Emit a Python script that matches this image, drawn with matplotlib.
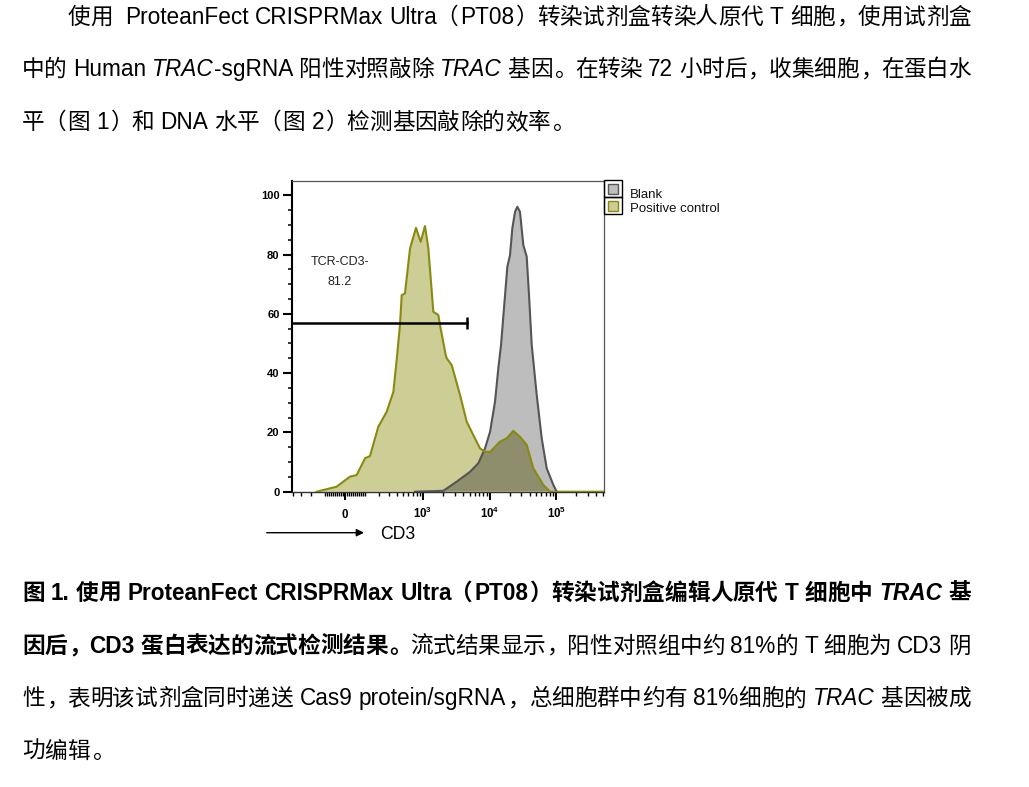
import re
import numpy as np
import matplotlib
matplotlib.use("Agg")
import matplotlib.pyplot as plt
from matplotlib.patches import Rectangle

plt.rcParams['font.family'] = ['Liberation Sans', 'Noto Sans CJK SC', 'DejaVu Sans']
plt.rcParams['mathtext.fontset'] = 'custom'
plt.rcParams['mathtext.rm'] = 'Liberation Sans'
plt.rcParams['mathtext.bf'] = 'Liberation Sans:bold'

# CD3 histograms (CD3 intensity, % of max)
blank_cd3 = [756, 2024, 3213, 5087, 6775, 8541, 10160, 12060, 13520, 14840, 17050,
             18460, 20240, 21910, 24070, 26050, 28560, 32030, 36000, 39010, 42810,
             50900, 60450, 71800, 90240, 101500]
blank_pct = [0, 0.3, 3.4, 6.7, 9.6, 14.6, 20.2, 30.4, 41.6, 49.5, 66.3,
             75.9, 79.8, 88.8, 94.4, 96.1, 94.4, 83.2, 79.3, 66.3, 49.5,
             32.6, 18.0, 7.9, 2.3, 0]
pos_cd3 = [-155, -40, 24, 56, 102, 132, 193, 271, 348, 393, 443, 472, 530, 635,
           782, 922, 1071, 1203, 1431, 1701, 1805, 2196, 2275, 2705, 3604, 4542,
           5705, 7181, 8541, 10160, 14340, 18060, 22680, 28560, 36000, 45220,
           63900, 80500, 519000]
pos_pct = [0, 1.7, 5.1, 5.6, 11.3, 12.0, 21.9, 27.0, 33.7, 44.4, 56.2, 66.3, 66.9, 82.1,
           89.0, 84.3, 89.6, 82.1, 60.7, 59.6, 56.2, 46.1, 45.0, 42.7, 32.6, 23.6,
           19.1, 14.6, 13.5, 13.4, 16.9, 18.0, 20.5, 18.5, 15.8, 7.9,
           2.3, 0, 0]

series_names = ['Blank', 'Positive control']

# gate
gate_lo, gate_hi, gate_y = -413, 4540, 56.8
gate_name = 'TCR-CD3-'
gate_value = '81.2'

x_range = (-413, 519000)
y_range = (0, 104.8)
x_major = [0, 1e3, 1e4, 1e5]
x_major_labels = [r'$\mathbf{0}$', r'$\mathbf{10^3}$', r'$\mathbf{10^4}$', r'$\mathbf{10^5}$']
y_major = [0, 20, 40, 60, 80, 100]

body_lines = [
    [("使用  ProteanFect CRISPRMax Ultra（PT08）转染试剂盒转染人原代 T 细胞，使用试剂盒", 'normal', 'normal')],
    [("中的 Human ", 'normal', 'normal'), ("TRAC", 'normal', 'italic'),
     ("-sgRNA 阳性对照敲除 ", 'normal', 'normal'), ("TRAC", 'normal', 'italic'),
     (" 基因。在转染 72 小时后，收集细胞，在蛋白水", 'normal', 'normal')],
    [("平（图 1）和 DNA 水平（图 2）检测基因敲除的效率。", 'normal', 'normal')],
]
caption_lines = [
    [("图 1. 使用 ProteanFect CRISPRMax Ultra（PT08）转染试剂盒编辑人原代 T 细胞中 ", 'bold', 'normal'),
     ("TRAC", 'bold', 'italic'), (" 基", 'bold', 'normal')],
    [("因后，CD3 蛋白表达的流式检测结果。", 'bold', 'normal'),
     ("流式结果显示，阳性对照组中约 81%的 T 细胞为 CD3 阴", 'normal', 'normal')],
    [("性，表明该试剂盒同时递送 Cas9 protein/sgRNA，总细胞群中约有 81%细胞的 ", 'normal', 'normal'),
     ("TRAC", 'normal', 'italic'), (" 基因被成", 'normal', 'normal')],
    [("功编辑。", 'normal', 'normal')],
]

W, H = 1029, 787
fig = plt.figure(figsize=(W / 100, H / 100), dpi=100)
renderer = fig.canvas.get_renderer()


def fx(px):
    return px / W


def fy(py):
    return 1 - py / H


# ---------------- paragraph text ----------------
CJK = '\u3000-\u303f\u4e00-\u9fff\uff00-\uffef'
TOKEN = re.compile('[' + CJK + ']|[^\\s' + CJK + ']+|\\s+')
FS = 16.3
EM = FS * 100 / 72


def put_line(runs, x0, x1, base, justify=True):
    items = []
    for text, weight, style in runs:
        for tok in TOKEN.findall(text):
            if tok.isspace():
                items.append(dict(t=None, w=0.278 * EM * len(tok), kind='space'))
                continue
            t = fig.text(0, 0, tok, fontsize=FS, fontweight=weight, fontstyle=style,
                         va='baseline', ha='left', color='black')
            ink = t.get_window_extent(renderer).width
            if re.match('[' + CJK + ']', tok):
                items.append(dict(t=t, w=EM, ink=ink, kind='cjk', tok=tok))
            else:
                items.append(dict(t=t, w=ink, ink=ink, kind='latin', tok=tok))
    natural = sum(it['w'] for it in items)
    stretch = 0
    for a, b in zip(items[:-1], items[1:]):
        if not (a['kind'] == 'latin' and b['kind'] == 'latin'):
            stretch += 1
    extra = (x1 - x0 - natural) / stretch if (justify and stretch) else 0
    x = x0
    prev = None
    for it in items:
        if prev is not None and not (prev['kind'] == 'latin' and it['kind'] == 'latin'):
            x += extra
        if it['t'] is not None:
            if it['kind'] == 'cjk':
                if it['tok'] in '（《“':
                    px = x + EM - it['ink'] - 0.08 * EM
                elif it['tok'] in '），。、；：》”':
                    px = x + 0.08 * EM
                else:
                    px = x + (EM - it['ink']) / 2
            else:
                px = x
            it['t'].set_position((fx(px), fy(base)))
        x += it['w']
        prev = it


LEFT, RIGHT = 22, 971
for i, runs in enumerate(body_lines):
    x0 = LEFT + 2 * EM if i == 0 else LEFT
    put_line(runs, x0, RIGHT, 23.5 + 52.7 * i, justify=(i < len(body_lines) - 1))
for i, runs in enumerate(caption_lines):
    put_line(runs, LEFT, RIGHT, 600 + 52.7 * i, justify=(i < len(caption_lines) - 1))

# ---------------- histogram ----------------
C = 136.0


def biex(v):
    return np.arcsinh(np.asarray(v, dtype=float) / C) / np.log(10)


def biex_inv(t):
    return C * np.sinh(np.asarray(t, dtype=float) * np.log(10))


ax = fig.add_axes([fx(292), fy(491.7), (604 - 292) / W, (491.7 - 181) / H])
ax.set_xscale('function', functions=(biex, biex_inv))
ax.set_xlim(*x_range)
ax.set_ylim(*y_range)

gray_fill = '#bdbdbd'
olive_fill = '#cdcd96'
overlap_fill = '#8e8e6c'
gray_line = '#555555'
olive_line = '#8a8a10'

gpatch = ax.fill(blank_cd3, blank_pct, color=gray_fill, lw=0, zorder=1)[0]
ax.fill(pos_cd3, pos_pct, color=olive_fill, lw=0, zorder=2)
dark = ax.fill(pos_cd3, pos_pct, color=overlap_fill, lw=0, zorder=3)[0]
dark.set_clip_path(gpatch)
ax.plot(blank_cd3, blank_pct, color=gray_line, lw=1.5, zorder=4, solid_joinstyle='round')
ax.plot(pos_cd3, pos_pct, color=olive_line, lw=1.5, zorder=5, solid_joinstyle='round')

# gate
ax.plot([gate_lo, gate_hi], [gate_y, gate_y], color='black', lw=1.8, zorder=6, clip_on=False)
ax.plot([gate_hi], [gate_y], marker='|', ms=9, mew=1.8, color='black', zorder=6)
ax.text(0.154, 0.74, gate_name, transform=ax.transAxes, ha='center', va='center',
        fontsize=9, color='#222222')
ax.text(0.154, 0.674, gate_value, transform=ax.transAxes, ha='center', va='center',
        fontsize=9, color='#222222')

# axes styling
minor = []
for k in (10, 100):
    for m in range(1, 10):
        minor += [m * k, -m * k]
for k in (1000, 10000, 100000):
    for m in range(2, 10):
        minor.append(m * k)
minor = [v for v in minor if x_range[0] <= v <= x_range[1]]

ax.set_xticks(x_major, x_major_labels)
ax.set_xticks(minor, minor=True)
for lab in ax.get_xticklabels():
    lab.set_va('baseline')
ax.set_yticks(y_major)
ax.set_yticks(np.arange(5, 100, 5), minor=True)
for lab in ax.get_yticklabels():
    lab.set_fontweight('bold')

ax.tick_params(axis='x', which='major', direction='out', length=5.5, width=1.4,
               pad=13.6, labelsize=8.3, color='black')
ax.tick_params(axis='x', which='minor', direction='out', length=3.2, width=1.0, color='black')
ax.tick_params(axis='y', which='major', direction='out', length=6.5, width=1.5,
               pad=2.5, labelsize=8, color='black')
ax.tick_params(axis='y', which='minor', direction='out', length=3, width=1.1, color='black')

ax.spines['left'].set_linewidth(1.5)
ax.spines['left'].set_color('black')
ax.spines['bottom'].set_linewidth(1.0)
ax.spines['bottom'].set_color('#333333')
for s in ('top', 'right'):
    ax.spines[s].set_linewidth(0.9)
    ax.spines[s].set_color('#555555')

# x axis title with arrow
fig.text(fx(397.5), fy(539.3), 'CD3', fontsize=12.7, ha='center', va='baseline')
ax.annotate('', xy=(fx(364), fy(532.7)), xytext=(fx(266.7), fy(532.7)),
            xycoords='figure fraction', textcoords='figure fraction',
            arrowprops=dict(arrowstyle='-|>', lw=1.0, color='black',
                            mutation_scale=11, shrinkA=0, shrinkB=0))

# legend
cell_x, cell_w, cell_h = 604, 18, 17
for i, (name, fc, ec) in enumerate(zip(series_names, [gray_fill, olive_fill], [gray_line, olive_line])):
    top = 180 + i * cell_h
    fig.patches.append(Rectangle((fx(cell_x), fy(top + cell_h)), cell_w / W, cell_h / H,
                                 transform=fig.transFigure, fill=False, ec='black', lw=1.0))
    fig.patches.append(Rectangle((fx(cell_x + 3.5), fy(top + 3.5 + 10.5)), 10.5 / W, 10.5 / H,
                                 transform=fig.transFigure, fc=fc, ec=ec, lw=1.0))
    fig.text(fx(630), fy(194.5 + i * 14), name, fontsize=9.5, ha='left', va='center', color='#111111')

fig.savefig('out.png', dpi=100)
